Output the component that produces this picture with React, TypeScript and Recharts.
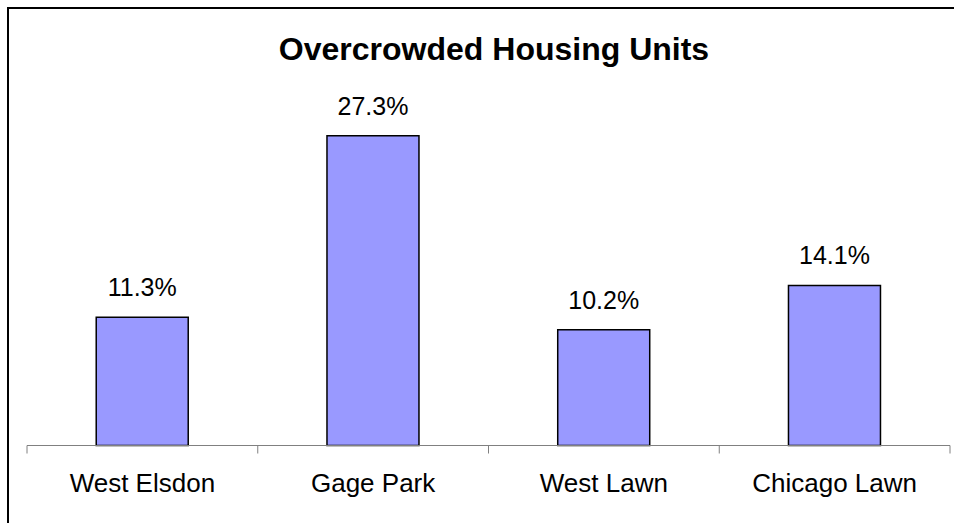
import React from "react";
import { BarChart, Bar, XAxis, YAxis, LabelList } from "recharts";

const categories = ["West Elsdon", "Gage Park", "West Lawn", "Chicago Lawn"];
const values = [11.3, 27.3, 10.2, 14.1];
const chartTitle = "Overcrowded Housing Units";
const yDomain = [0, 30];

const data = categories.map((name, i) => ({ name, value: values[i] }));

const FONT = "'Liberation Sans', Arial, Helvetica, sans-serif";

const CategoryTick = (props: any) => {
  const { x, y, payload, index, width } = props;
  const half = payload && payload.offset ? payload.offset : width / categories.length / 2;
  const left = x - half;
  const right = x + half;
  return (
    <g>
      <line x1={left} y1={y} x2={left} y2={y + 8} stroke="#808080" strokeWidth={1} />
      {index === categories.length - 1 && (
        <line x1={right} y1={y} x2={right} y2={y + 8} stroke="#808080" strokeWidth={1} />
      )}
      <text x={x} y={y + 46.5} textAnchor="middle" fill="#000" fontSize={26} fontFamily={FONT}>
        {payload.value}
      </text>
    </g>
  );
};

export default function App() {
  return (
    <div style={{ position: "absolute", left: 0, top: 0, width: 954, height: 523, background: "#fff" }}>
      <BarChart
        width={954}
        height={523}
        data={data}
        margin={{ top: 105, right: 4, bottom: 37.5, left: 27 }}
        barCategoryGap="30%"
      >
        <YAxis hide domain={yDomain} />
        <XAxis
          dataKey="name"
          axisLine={{ stroke: "#808080", strokeWidth: 1 }}
          tickLine={false}
          tickSize={0}
          tickMargin={0}
          height={40}
          interval={0}
          tick={<CategoryTick />}
        />
        <Bar dataKey="value" fill="#9999FF" stroke="#000" strokeWidth={1.5} isAnimationActive={false}>
          <LabelList
            dataKey="value"
            position="top"
            offset={21}
            formatter={(v: any) => `${Number(v).toFixed(1)}%`}
            fill="#000"
            fontSize={25}
            fontFamily={FONT}
          />
        </Bar>
      </BarChart>
      <svg width={954} height={523} style={{ position: "absolute", left: 0, top: 0, pointerEvents: "none" }}>
        <path d="M8,523 V8 H954" fill="none" stroke="#000" strokeWidth={2} />
        <text x={494} y={60} textAnchor="middle" fontSize={32} fontWeight="bold" fontFamily={FONT} fill="#000">
          {chartTitle}
        </text>
      </svg>
    </div>
  );
}
